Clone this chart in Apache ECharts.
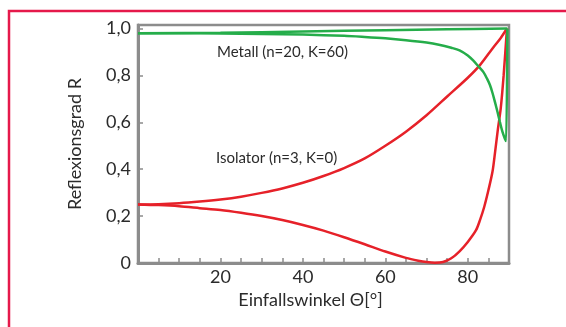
<!DOCTYPE html>
<html>
<head>
<meta charset="utf-8">
<script src="https://cdn.jsdelivr.net/npm/echarts@6/dist/echarts.min.js"></script>
<style>
	html, body { margin: 0; padding: 0; background: #fff; }
	#chart-container { width: 566px; height: 327px; }
</style>
</head>
<body>
<div id="chart-container"></div>
<script>
// angles (deg) and reflectance
const isoSAngle = [0, 5, 10, 15, 20, 25, 30, 35, 40, 45, 50, 55, 60, 65, 70, 75, 80, 83, 86, 88, 89.5];
const isoS      = [0.25, 0.251, 0.255, 0.262, 0.271, 0.283, 0.299, 0.318, 0.342, 0.371, 0.405, 0.446, 0.5, 0.56, 0.63, 0.71, 0.79, 0.845, 0.915, 0.96, 1.0];

const isoPAngle = [0, 5, 10, 15, 20, 25, 30, 35, 40, 45, 50, 55, 60, 65, 68, 70, 72, 74, 76, 78, 80, 82, 83, 84, 85, 86, 86.6, 87.3, 88, 88.7, 89.5];
const isoP      = [0.25, 0.247, 0.242, 0.234, 0.226, 0.214, 0.2, 0.183, 0.162, 0.138, 0.11, 0.08, 0.049, 0.022, 0.01, 0.004, 0.001, 0.004, 0.02, 0.05, 0.09, 0.14, 0.185, 0.24, 0.31, 0.39, 0.47, 0.57, 0.66, 0.8, 1.0];

const metSAngle = [0, 20, 40, 60, 75, 89.6];
const metS      = [0.98, 0.982, 0.987, 0.993, 0.997, 1.0];

const metPAngle = [0, 10, 20, 30, 40, 50, 55, 60, 65, 70, 73, 76, 78, 80, 81.3, 82.5, 83.8, 84.7, 85.4, 86, 86.6, 87.2, 87.8, 88.4, 89, 89.3, 89.6];
const metP      = [0.98, 0.98, 0.979, 0.977, 0.974, 0.969, 0.964, 0.958, 0.95, 0.94, 0.931, 0.918, 0.907, 0.885, 0.864, 0.84, 0.814, 0.785, 0.758, 0.725, 0.686, 0.645, 0.601, 0.56, 0.53, 0.52, 1.0];

const xTickLabels = [20, 40, 60, 80];
const yTickLabels = ['0', '0,2', '0,4', '0,6', '0,8', '1,0'];

const RED = '#e62129';
const GREEN = '#25ad4a';
const AXIS = '#8c8c8c';
const FONT = 'Lato, "DejaVu Sans", sans-serif';
const TXT = '#2b2b2b';

const pairs = (xs, ys) => xs.map((x, i) => [x, ys[i]]);

const chart = echarts.init(document.getElementById('chart-container'), null, {renderer: 'canvas'});

const lineSeries = (name, data, color) => ({
	name: name,
	type: 'line',
	data: data,
	showSymbol: false,
	smooth: 0.3,
	lineStyle: {color: color, width: 2.5},
	animation: false,
});

chart.setOption({
	animation: false,
	textStyle: {fontFamily: FONT},
	grid: {
		left: 138, right: 57, top: 25, bottom: 64,
		show: true,
		borderColor: AXIS,
		borderWidth: 2.5,
	},
	xAxis: {
		type: 'value',
		min: 0, max: 90, interval: 5,
		axisLine: {lineStyle: {color: AXIS, width: 3}},
		axisTick: {inside: true, length: 5, lineStyle: {color: AXIS, width: 1.5}},
		splitLine: {show: false},
		axisLabel: {
			color: TXT, fontSize: 18, fontFamily: FONT, margin: 5,
			formatter: v => xTickLabels.includes(v) ? String(v) : '',
		},
		name: 'Einfallswinkel Θ[°]',
		nameLocation: 'middle',
		nameGap: 24,
		nameTextStyle: {color: TXT, fontSize: 18, fontFamily: FONT, padding: [0, 26, 0, 0]},
	},
	yAxis: {
		type: 'value',
		min: 0, max: 1.015, interval: 0.2,
		axisLine: {lineStyle: {color: AXIS, width: 3}},
		axisTick: {inside: true, length: 5, lineStyle: {color: AXIS, width: 1.5}},
		splitLine: {show: false},
		axisLabel: {
			color: TXT, fontSize: 18, fontFamily: FONT, margin: 7,
			formatter: v => {
				const k = Math.round(v * 5);
				return Math.abs(v * 5 - k) < 1e-6 ? yTickLabels[k] : '';
			},
		},
		name: 'Reflexionsgrad R',
		nameLocation: 'middle',
		nameGap: 54,
		nameTextStyle: {color: TXT, fontSize: 18, fontFamily: FONT},
	},
	graphic: [
		{
			type: 'rect',
			shape: {x: 9, y: 11, width: 620, height: 400},
			style: {fill: null, stroke: '#e5194b', lineWidth: 2.5},
			silent: true,
		},
		{
			type: 'text', left: 217, top: 45,
			style: {text: 'Metall (n=20, K=60)', font: '15px ' + FONT, fill: TXT},
		},
		{
			type: 'text', left: 216, top: 151,
			style: {text: 'Isolator (n=3, K=0)', font: '15px ' + FONT, fill: TXT},
		},
	],
	series: [
		lineSeries('Isolator s', pairs(isoSAngle, isoS), RED),
		lineSeries('Isolator p', pairs(isoPAngle, isoP), RED),
		lineSeries('Metall s', pairs(metSAngle, metS), GREEN),
		lineSeries('Metall p', pairs(metPAngle, metP), GREEN),
	],
});
</script>
</body>
</html>
